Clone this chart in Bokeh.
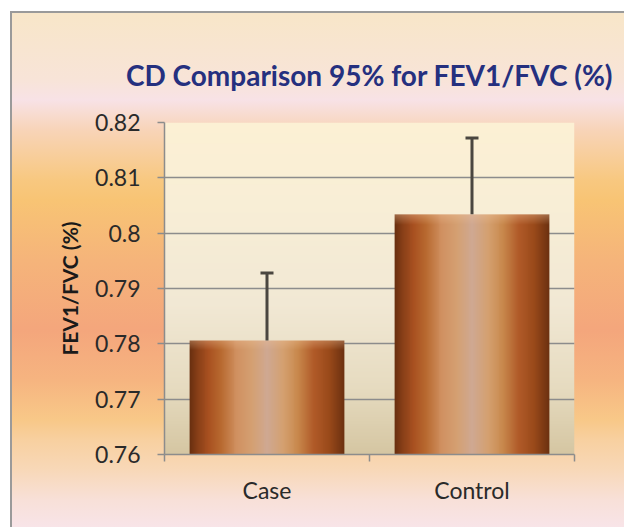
import numpy as np
from bokeh.plotting import figure
from bokeh.models import Range1d, FixedTicker, ColumnDataSource, Whisker, TeeHead
from bokeh.embed import file_html
from bokeh.resources import INLINE

# ---- data ----
categories = ["Case", "Control"]
means = [0.7806, 0.8034]
upper_ci = [0.7928, 0.8172]
y_ticks = [0.76, 0.77, 0.78, 0.79, 0.80, 0.81, 0.82]
y_tick_labels = ["0.76", "0.77", "0.78", "0.79", "0.8", "0.81", "0.82"]
title_text = "CD Comparison 95% for FEV1/FVC (%)"
y_label = "FEV1/FVC (%)"

FONT = "Lato"
GRID = "#8c8c8c"


def hex_rgb(h):
    h = h.lstrip("#")
    return [int(h[i:i + 2], 16) for i in (0, 2, 4)]


def ramp(stops, n):
    ts = np.linspace(0, 1, n)
    pos = [s[0] for s in stops]
    cols = [hex_rgb(s[1]) for s in stops]
    return np.stack([np.interp(ts, pos, [c[k] for c in cols]) for k in range(3)], axis=-1)


def to_rgba(rgb):
    h, w = rgb.shape[:2]
    img = np.empty((h, w), dtype=np.uint32)
    view = img.view(dtype=np.uint8).reshape((h, w, 4))
    view[..., :3] = np.clip(rgb.round(), 0, 255).astype(np.uint8)
    view[..., 3] = 255
    return img


y0, y1 = y_ticks[0], y_ticks[-1]
p = figure(width=624, height=527, x_range=Range1d(0, len(categories)),
           y_range=Range1d(y0, y1), output_backend="svg", toolbar_location=None,
           min_border_left=164, min_border_right=50, min_border_top=122,
           min_border_bottom=73)

p.border_fill_alpha = 0
p.background_fill_alpha = 0
p.outline_line_color = None
p.styles = {
    "background": ("linear-gradient(to bottom, #ffffff 0px, #ffffff 12px, "
                   "#f8e6c8 12px, #f8e4d8 80px, #f8e2e6 100px, #f8d4b8 130px, "
                   "#f8c880 180px, #f8c474 200px, #f5b47a 260px, #f4a67c 330px, "
                   "#f6b480 380px, #f8c888 420px, #f8d0a0 440px, #f8d8b8 470px, "
                   "#f8e0d8 500px, #f8e4e8 527px)"),
    "box-shadow": "inset 10px 11px 0 0 #ffffff, inset 12px 13px 0 0 #9a9a9a",
}

# plot-area gradient
bg = ramp([(0, "#d5c6a2"), (0.2, "#e6dbc0"), (0.45, "#f1e8d4"),
           (0.75, "#f8eed6"), (1, "#fcf0d4")], 240)
bg_img = to_rgba(np.repeat(bg[:, None, :], 2, axis=1))
p.image_rgba(image=[bg_img], x=0, y=y0, dw=len(categories), dh=y1 - y0, level="image")

# bars with copper gradient
bar_w = 0.755
centers = np.arange(len(categories)) + 0.5
profile = ramp([(0, "#6a3010"), (0.05, "#8a4018"), (0.12, "#a85020"), (0.2, "#b86a30"),
                (0.3, "#d09060"), (0.4, "#d4a072"), (0.5, "#cfa892"), (0.6, "#d4a070"),
                (0.7, "#c8884c"), (0.8, "#b05a28"), (0.9, "#9a4a1a"), (1.0, "#6a3010")], 160)
px_per_unit = 332 / (y1 - y0)
for c, m in zip(centers, means):
    rows = max(int((m - y0) * px_per_unit), 12)
    img = np.repeat(profile[None, :, :], rows, axis=0).copy()
    hl = np.array(hex_rgb("#f0c29a"), dtype=float)
    for k in range(10):
        f = 0.38 * (1 - k / 10)
        r = rows - 1 - k
        img[r] = img[r] * (1 - f) + hl * f
    p.image_rgba(image=[to_rgba(img)], x=c - bar_w / 2, y=y0, dw=bar_w, dh=m - y0)

# error bars (upper only)
src = ColumnDataSource(dict(x=list(centers), lower=means, upper=upper_ci))
wh = Whisker(source=src, base="x", lower="lower", upper="upper", dimension="height",
             line_color="#4a4640", line_width=3, lower_head=None,
             upper_head=TeeHead(size=13, line_color="#4a4640", line_width=3),
             level="overlay")
p.add_layout(wh)

# axes
p.xgrid.visible = False
p.ygrid.ticker = FixedTicker(ticks=y_ticks)
p.ygrid.grid_line_color = GRID
p.ygrid.grid_line_width = 1.5

ya = p.yaxis[0]
ya.ticker = FixedTicker(ticks=y_ticks)
ya.major_label_overrides = {t: l for t, l in zip(y_ticks, y_tick_labels)}
ya.axis_line_color = GRID
ya.axis_line_width = 1.5
ya.major_tick_line_color = GRID
ya.major_tick_line_width = 1.5
ya.major_tick_out = 7
ya.major_tick_in = 0
ya.minor_tick_line_color = None
ya.major_label_text_font = FONT
ya.major_label_text_font_size = "23px"
ya.major_label_text_color = "#2a2a2a"
ya.major_label_standoff = 17
ya.axis_label = y_label
ya.axis_label_text_font = FONT
ya.axis_label_text_font_style = "bold"
ya.axis_label_text_font_size = "21px"
ya.axis_label_text_color = "#1a1a1a"
ya.axis_label_standoff = 10

xa = p.xaxis[0]
xa.ticker = FixedTicker(ticks=list(centers),
                        minor_ticks=list(range(len(categories) + 1)))
xa.major_label_overrides = {float(c): n for c, n in zip(centers, categories)}
xa.axis_line_color = GRID
xa.axis_line_width = 1.5
xa.major_tick_line_color = None
xa.major_tick_out = 0
xa.major_tick_in = 0
xa.minor_tick_line_color = GRID
xa.minor_tick_line_width = 1.5
xa.minor_tick_out = 7
xa.minor_tick_in = 0
xa.major_label_text_font = FONT
xa.major_label_text_font_size = "23px"
xa.major_label_text_color = "#2a2a2a"
xa.major_label_standoff = 14

p.title.text = title_text
p.title.align = "center"
p.title.text_font = FONT
p.title.text_font_style = "bold"
p.title.text_font_size = "28px"
p.title.text_color = "#25307f"
p.title.standoff = 62

open("out.html", "w").write(file_html(p, INLINE))
